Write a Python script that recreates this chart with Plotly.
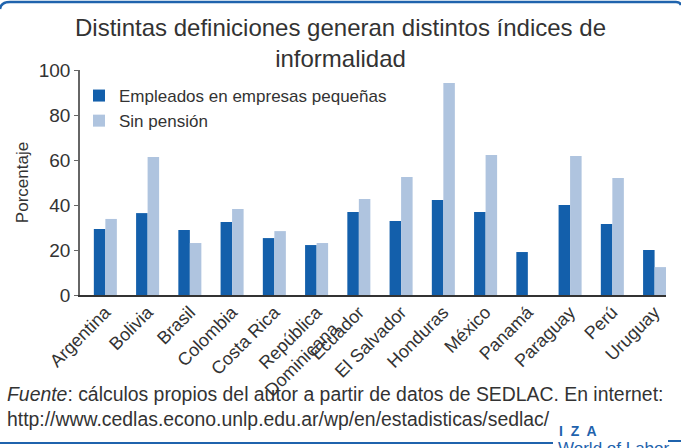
import plotly.graph_objects as go

categories = ["Argentina", "Bolivia", "Brasil", "Colombia", "Costa Rica",
              "República<br>Dominicana", "Ecuador", "El Salvador", "Honduras",
              "México", "Panamá", "Paraguay", "Perú", "Uruguay"]
empleados = [29.3, 36.4, 28.9, 32.4, 25.3, 22.2, 36.9, 32.9, 42.2, 36.9, 19.1, 40.0, 31.6, 20.0]
sin_pension = [33.8, 61.3, 23.1, 38.2, 28.4, 23.1, 42.7, 52.4, 94.2, 62.2, None, 61.8, 52.0, 12.4]
y_ticks = [0, 20, 40, 60, 80, 100]

DARK = "#135fab"
LIGHT = "#afc4df"
FRAME = "#1f63ad"
TXT = "#333333"
FONT = "Liberation Sans"

W, H = 681, 448
L, R, T, B = 80, 666, 70, 295


def fx(px):
    return (px - L) / (R - L)


def fy(py):
    return (B - py) / (B - T)


fig = go.Figure()
fig.add_trace(go.Bar(x=categories, y=empleados, name="Empleados en empresas pequeñas",
                     marker=dict(color=DARK, line=dict(width=0))))
fig.add_trace(go.Bar(x=categories, y=sin_pension, name="Sin pensión",
                     marker=dict(color=LIGHT, line=dict(width=0))))

fig.update_layout(
    width=W, height=H,
    margin=dict(l=L, r=W - R, t=T, b=H - B, autoexpand=False),
    paper_bgcolor="white", plot_bgcolor="white",
    font=dict(family=FONT, color=TXT, size=17),
    barmode="group", bargap=0.455, bargroupgap=0,
    showlegend=True,
    legend=dict(x=fx(79), y=fy(78), xanchor="left", yanchor="top",
                bgcolor="rgba(0,0,0,0)", font=dict(size=17, color=TXT),
                itemclick=False, tracegroupgap=0),
    xaxis=dict(type="category", range=[-0.6, 13.27], showline=True, linecolor="#333333",
               linewidth=1.5, ticks="", tickangle=-45, ticklabelstandoff=-2,
               tickfont=dict(size=18, color=TXT), showgrid=False, zeroline=False,
               fixedrange=True),
    yaxis=dict(range=[0, 100], tickvals=y_ticks, showline=True, linecolor="#666666",
               linewidth=1.5, ticks="outside", ticklen=4, tickcolor="#666666",
               tickfont=dict(size=19, color=TXT), showgrid=False, zeroline=False,
               title=dict(text="Porcentaje", font=dict(size=17, color=TXT), standoff=6),
               fixedrange=True),
)

shapes = [
    dict(type="path", xref="paper", yref="paper",
         path=f"M {fx(0)},{fy(9)} Q {fx(1)},{fy(2)} {fx(10)},{fy(2)} L {fx(676)},{fy(2)} Q {fx(680)},{fy(2)} {fx(681)},{fy(5)}",
         line=dict(color=FRAME, width=2.5)),
    dict(type="line", xref="paper", yref="paper", x0=fx(0), x1=fx(553), y0=fy(443), y1=fy(443),
         line=dict(color=FRAME, width=2)),
    dict(type="line", xref="paper", yref="paper", x0=fx(668), x1=fx(681), y0=fy(441), y1=fy(441),
         line=dict(color=FRAME, width=2)),
]
fig.update_layout(shapes=shapes)

annotations = [
    dict(text="Distintas definiciones generan distintos índices de<br>informalidad",
         xref="paper", yref="paper", x=fx(340.5), y=fy(12), xanchor="center", yanchor="top",
         align="center", showarrow=False, font=dict(size=24, color=TXT, family=FONT)),
    dict(text="<i>Fuente</i>: cálculos propios del autor a partir de datos de SEDLAC. En internet:<br>"
              "http://www.cedlas.econo.unlp.edu.ar/wp/en/estadisticas/sedlac/",
         xref="paper", yref="paper", x=fx(5), y=fy(381), xanchor="left", yanchor="top",
         align="left", showarrow=False, font=dict(size=19.4, color=TXT, family=FONT)),
    dict(text="<b>I  Z  A</b>", xref="paper", yref="paper", x=fx(557), y=fy(431),
         xanchor="left", yanchor="middle", showarrow=False,
         font=dict(size=14, color=FRAME, family=FONT)),
    dict(text="World of Labor", xref="paper", yref="paper", x=fx(556), y=fy(448),
         xanchor="left", yanchor="middle", showarrow=False,
         font=dict(size=17, color=FRAME, family=FONT)),
]
fig.update_layout(annotations=annotations)

fig.write_html("out.html", config={"displayModeBar": False},
               post_script="document.body.style.margin='0';document.body.style.overflow='hidden';")
